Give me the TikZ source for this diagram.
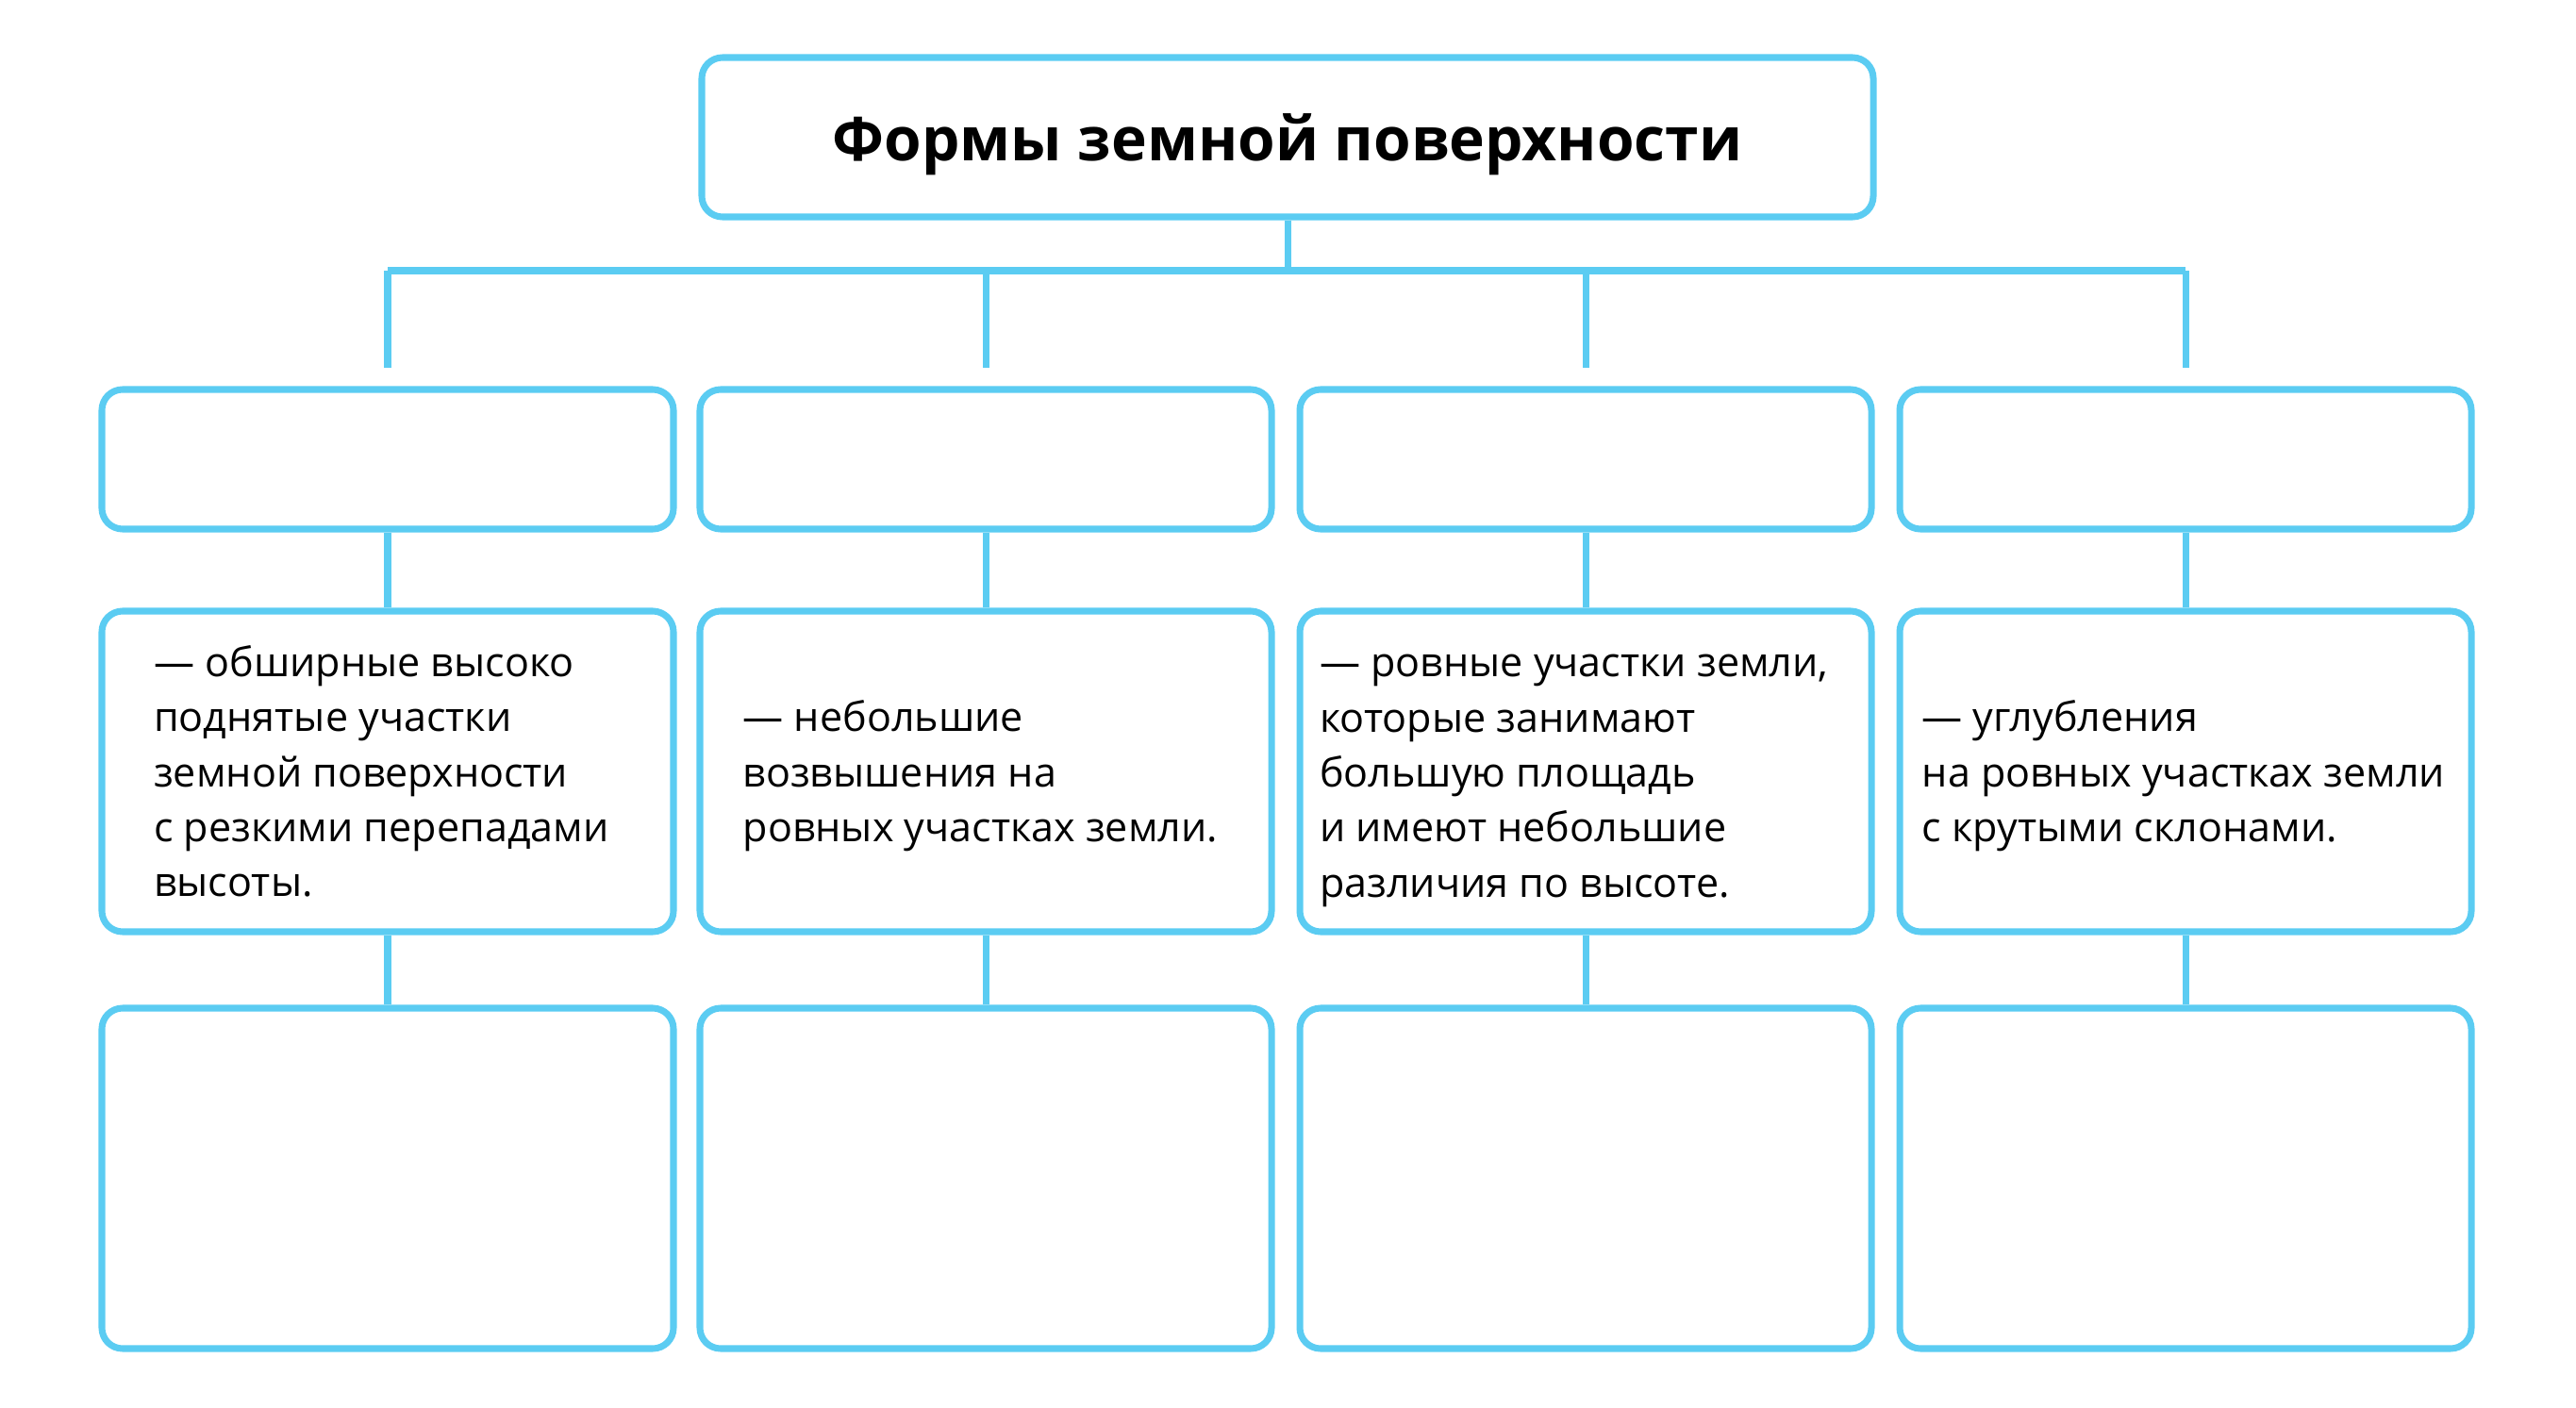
\documentclass[tikz,border=0pt]{standalone}
\usepackage{fontspec}
\setmainfont{Open Sans}
\definecolor{lineblue}{HTML}{5BCCF2}
\tikzset{
  box/.style={draw=lineblue, line width=2pt, rounded corners=0.22cm, minimum width=6.06cm, inner sep=0pt},
  link/.style={draw=lineblue, line width=2pt},
  desc/.style={anchor=west, align=left, font=\fontsize{12.25}{16.6}\selectfont, inner sep=0pt, yshift=-0.085cm,
    execute at begin node=\strut, execute at end node=\strut}
}
\begin{document}
\begin{tikzpicture}
\useasboundingbox (0,0) rectangle (27.31,-14.93);
\node[box, minimum width=12.42cm, minimum height=1.69cm, text depth=0pt, font=\bfseries\fontsize{18.2}{20}\selectfont] (title) at (13.65,-1.455) {Формы земной поверхности};
\coordinate (bus) at (13.65,-2.87);
\draw[link] (title.south) -- (bus);
\draw[link] (4.11,-2.87) -- (23.17,-2.87);
\foreach \n/\x in {a/4.11, b/10.45, c/16.81, d/23.17}
{
\node[box, minimum height=1.48cm] (one\n) at (\x,-4.87) {};
\node[box, minimum height=3.40cm] (two\n) at (\x,-8.18) {};
\node[box, minimum height=3.61cm] (three\n) at (\x,-12.495) {};
\coordinate (top\n) at (\x,-2.87);
\coordinate (drop\n) at (\x,-3.90);
\draw[link] (top\n) -- (drop\n);
\draw[link] (one\n.south) -- (two\n.north);
\draw[link] (two\n.south) -- (three\n.north);
}
\node[desc] (texta) at ([xshift=0.58cm]twoa.west) {— обширные высоко\\поднятые участки\\земной поверхности\\с резкими перепадами\\высоты.};
\node[desc] (textb) at ([xshift=0.485cm]twob.west) {— небольшие\\возвышения на\\ровных участках земли.};
\node[desc, yshift=-0.05cm] (textc) at ([xshift=0.24cm]twoc.west) {— ровные участки земли,\\которые занимают\\большую площадь\\и имеют небольшие\\различия по высоте.};
\node[desc] (textd) at ([xshift=0.265cm]twod.west) {— углубления\\на ровных участках земли\\с крутыми склонами.};
\end{tikzpicture}
\end{document}
